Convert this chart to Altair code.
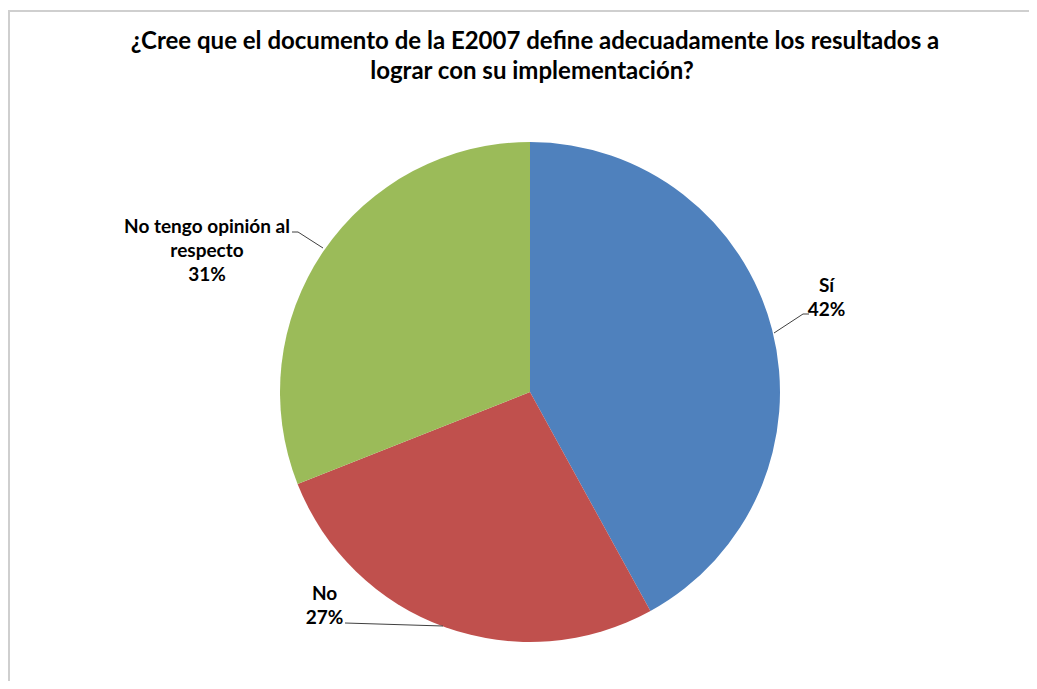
import altair as alt
import pandas as pd

# ---- data ----
categories = ["Sí", "No", "No tengo opinión al respecto"]
values = [42, 27, 31]
label_lines = ["Sí", "No", "No tengo opinión al\nrespecto"]
colors = ["#4F81BD", "#C0504D", "#9BBB59"]
title_lines = [
    "¿Cree que el documento de la E2007 define adecuadamente los resultados a",
    "lograr con su implementación?",
]

FONT = "Lato"
W, H = 1021, 673
CX, CY, R = 522, 384, 250

pie_df = pd.DataFrame({"cat": categories, "val": values, "ord": list(range(len(categories)))})

pie = alt.Chart(pie_df).mark_arc(radius=R).encode(
    theta=alt.Theta("val:Q", stack=True),
    order=alt.Order("ord:Q"),
    color=alt.Color("cat:N", scale=alt.Scale(domain=categories, range=colors), legend=None),
    x=alt.value(CX),
    y=alt.value(CY),
)

# label layout (annotation positions of the first text line, in pixels)
label_pos = {"Sí": (818.5, 278), "No": (316.5, 586), "No tengo opinión al respecto": (199, 219)}
lab_df = pd.DataFrame({
    "cat": categories,
    "txt": [f"{l}\n{v}%" for l, v in zip(label_lines, values)],
    "px": [label_pos[c][0] for c in categories],
    "py": [label_pos[c][1] for c in categories],
})
labels = alt.Chart(lab_df).mark_text(
    font=FONT, fontSize=19, fontWeight="bold", color="#000000",
    lineBreak="\n", lineHeight=24, align="center", baseline="middle",
).encode(
    x=alt.X("px:Q", scale=None),
    y=alt.Y("py:Q", scale=None),
    text="txt:N",
)

leader_pts = {
    "Sí": [(766, 325), (795, 306), (801, 306)],
    "No tengo opinión al respecto": [(284, 224), (290, 224), (315, 240)],
    "No": [(337, 615), (435, 618)],
}
rows = []
for c, pts in leader_pts.items():
    for i, (lx, ly) in enumerate(pts):
        rows.append({"cat": c, "i": i, "lx": lx, "ly": ly})
lead_df = pd.DataFrame(rows)
leaders = alt.Chart(lead_df).mark_line(color="#404040", strokeWidth=1).encode(
    x=alt.X("lx:Q", scale=None),
    y=alt.Y("ly:Q", scale=None),
    detail="cat:N",
    order="i:Q",
)

title_df = pd.DataFrame({"t": title_lines, "tx": [527, 524], "ty": [34, 64]})
title = alt.Chart(title_df).mark_text(
    font=FONT, fontSize=24, fontWeight="bold", color="#000000",
    align="center", baseline="middle",
).encode(
    x=alt.X("tx:Q", scale=None),
    y=alt.Y("ty:Q", scale=None),
    text="t:N",
)

# chart frame (top and left edges visible in the reference)
frame_top = alt.Chart(pd.DataFrame({"a": [0]})).mark_rule(color="#cfcfcf", strokeWidth=2).encode(
    x=alt.value(0), x2=alt.value(W), y=alt.value(3)
)
frame_left = alt.Chart(pd.DataFrame({"a": [0]})).mark_rule(color="#cfcfcf", strokeWidth=2).encode(
    x=alt.value(1), y=alt.value(2), y2=alt.value(H)
)

chart = alt.layer(frame_top, frame_left, pie, leaders, labels, title).properties(
    width=W, height=H,
    autosize=alt.AutoSizeParams(type="none"),
    padding=0,
    background="#ffffff",
).configure_view(stroke=None)

chart.save("out.html", embed_options={"renderer": "svg", "actions": False})
